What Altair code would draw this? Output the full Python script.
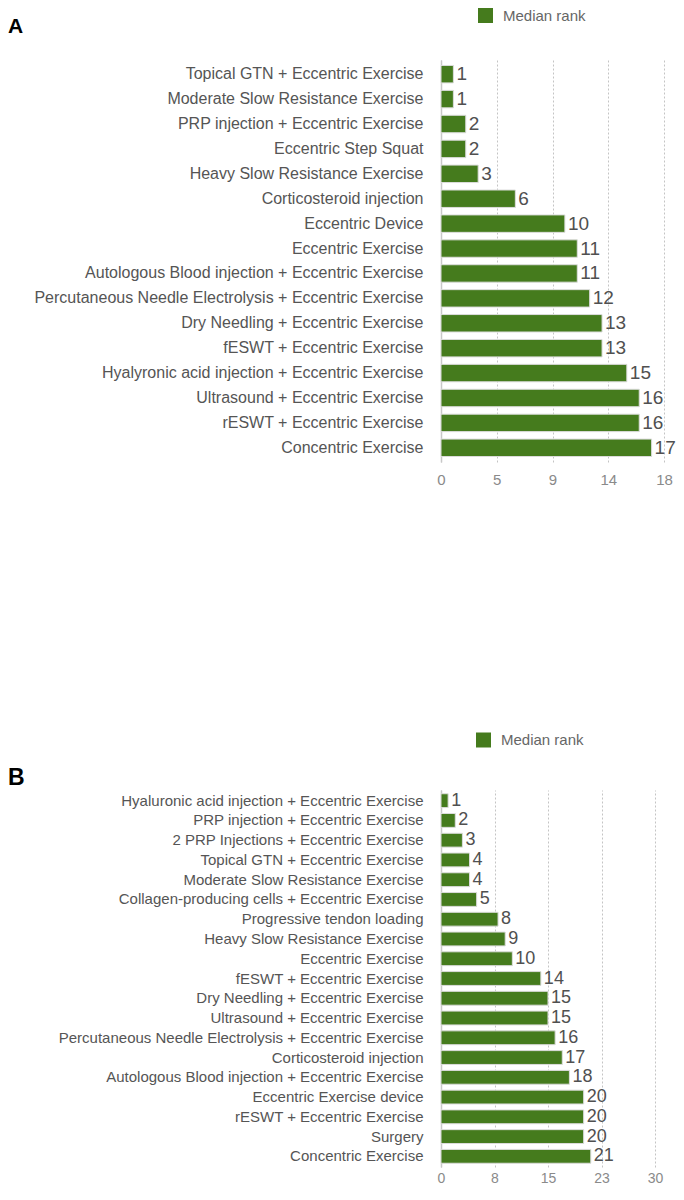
import altair as alt
import pandas as pd

FONT = "Liberation Sans"
GREEN = "#457b1d"

# Panel A data
a_labels = [
    "Topical GTN + Eccentric Exercise",
    "Moderate Slow Resistance Exercise",
    "PRP injection + Eccentric Exercise",
    "Eccentric Step Squat",
    "Heavy Slow Resistance Exercise",
    "Corticosteroid injection",
    "Eccentric Device",
    "Eccentric Exercise",
    "Autologous Blood injection + Eccentric Exercise",
    "Percutaneous Needle Electrolysis + Eccentric Exercise",
    "Dry Needling + Eccentric Exercise",
    "fESWT + Eccentric Exercise",
    "Hyalyronic acid injection + Eccentric Exercise",
    "Ultrasound + Eccentric Exercise",
    "rESWT + Eccentric Exercise",
    "Concentric Exercise",
]
a_values = [1, 1, 2, 2, 3, 6, 10, 11, 11, 12, 13, 13, 15, 16, 16, 17]
a_ticks = [0, 4.5, 9, 13.5, 18]

# Panel B data
b_labels = [
    "Hyaluronic acid injection + Eccentric Exercise",
    "PRP injection + Eccentric Exercise",
    "2 PRP Injections + Eccentric Exercise",
    "Topical GTN + Eccentric Exercise",
    "Moderate Slow Resistance Exercise",
    "Collagen-producing cells + Eccentric Exercise",
    "Progressive tendon loading",
    "Heavy Slow Resistance Exercise",
    "Eccentric Exercise",
    "fESWT + Eccentric Exercise",
    "Dry Needling + Eccentric Exercise",
    "Ultrasound + Eccentric Exercise",
    "Percutaneous Needle Electrolysis + Eccentric Exercise",
    "Corticosteroid injection",
    "Autologous Blood injection + Eccentric Exercise",
    "Eccentric Exercise device",
    "rESWT + Eccentric Exercise",
    "Surgery",
    "Concentric Exercise",
]
b_values = [1, 2, 3, 4, 4, 5, 8, 9, 10, 14, 15, 15, 16, 17, 18, 20, 20, 20, 21]
b_ticks = [0, 7.5, 15, 22.5, 30]

series_name = "Median rank"


def panel(letter, labels, values, ticks, width, height, label_size, value_size,
          pad_outer, legend_x, legend_y, letter_y, letter_size, tick_pad,
          tick_size):
    df = pd.DataFrame({"treatment": labels, "rank": values, "series": series_name})
    y = alt.Y(
        "treatment:N",
        sort=labels,
        title=None,
        scale=alt.Scale(paddingInner=0.3, paddingOuter=pad_outer),
        axis=alt.Axis(
            ticks=False, tickSize=0, labelPadding=18, labelFontSize=label_size,
            labelColor="#555555", labelFont=FONT, labelLimit=600,
            domain=True, domainColor="#c8c8c8", domainWidth=1.5, grid=False,
        ),
    )
    x = alt.X(
        "rank:Q",
        title=None,
        scale=alt.Scale(domain=[ticks[0], ticks[-1]], nice=False, zero=True),
        axis=alt.Axis(
            values=ticks, labelExpr="round(datum.value)", ticks=False, tickSize=0,
            labelFlush=False, domain=False, grid=True, gridDash=[2, 2],
            gridColor="#c4c4c4", gridWidth=1, labelPadding=tick_pad,
            labelFontSize=tick_size, labelColor="#8a8a8a", labelFont=FONT,
        ),
    )
    bars = alt.Chart(df).mark_bar(stroke="#dcdcdc", strokeWidth=1).encode(
        y=y,
        x=x,
        color=alt.Color(
            "series:N",
            scale=alt.Scale(range=[GREEN]),
            legend=alt.Legend(
                title=None, orient="none", legendX=legend_x, legendY=legend_y,
                symbolType="square", symbolSize=225, symbolStrokeWidth=0,
                symbolOpacity=1, labelFontSize=15, labelColor="#666666",
                labelFont=FONT, labelOffset=10, padding=0,
            ),
        ),
    )
    texts = alt.Chart(df).mark_text(
        align="left", baseline="middle", dx=3, fontSize=value_size,
        color="#505050", font=FONT,
    ).encode(
        y=alt.Y("treatment:N", sort=labels),
        x=alt.X("rank:Q"),
        text=alt.Text("rank:Q", format="d"),
    )
    letter_df = pd.DataFrame({"lbl": [letter]})
    letter_mark = alt.Chart(letter_df).mark_text(
        align="left", baseline="alphabetic", fontSize=letter_size,
        fontWeight="bold", color="#000000", font=FONT,
    ).encode(
        x=alt.value(-433),
        y=alt.value(letter_y),
        text="lbl:N",
    )
    return alt.layer(bars, texts, letter_mark).properties(width=width, height=height)


chart_a = panel("A", a_labels, a_values, a_ticks, 223, 402, 16, 19, 0.22,
                37, -52, -27, 21, 10, 15)
chart_b = panel("B", b_labels, b_values, b_ticks, 214, 377, 15, 18, 0.19,
                35, -57.5, -5, 23, 4, 14)

chart = (
    alt.vconcat(chart_a, chart_b, spacing=245)
    .resolve_scale(color="independent")
    .resolve_legend(color="independent")
    .properties(padding=0)
    .configure_view(stroke=None)
)

chart.save("out.html", embed_options={"renderer": "svg", "actions": False})
